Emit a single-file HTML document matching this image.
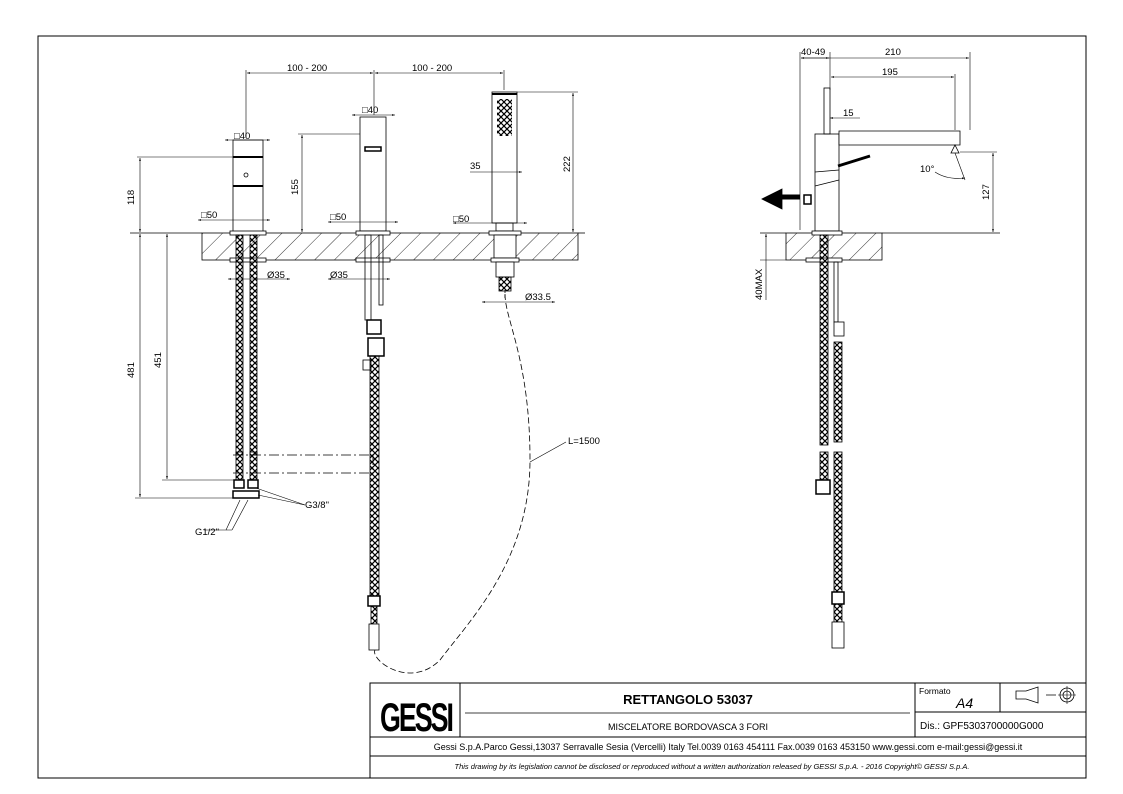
<!DOCTYPE html>
<html><head><meta charset="utf-8"><style>
html,body{margin:0;padding:0;background:#fff;}
svg{display:block;font-family:"Liberation Sans",Arial,sans-serif;}
text{fill:#000;}
</style></head><body>
<svg width="1123" height="794" viewBox="0 0 1123 794" xmlns="http://www.w3.org/2000/svg">
<defs>
<pattern id="hatch" width="14" height="14" patternUnits="userSpaceOnUse" patternTransform="rotate(45)">
<line x1="0" y1="0" x2="0" y2="14" stroke="#000" stroke-width="0.8"/></pattern>
<pattern id="braid" width="6" height="6" patternUnits="userSpaceOnUse">
<path d="M0 0L6 6M6 0L0 6" stroke="#000" stroke-width="1.2"/></pattern>
<marker id="a" viewBox="0 0 10 10" refX="10" refY="5" markerWidth="7" markerHeight="5" orient="auto-start-reverse"><path d="M0 2L10 5L0 8z" fill="#000"/></marker>
</defs>
<rect x="38" y="36" width="1048" height="742" fill="none" stroke="#000" stroke-width="1"/>

<g stroke="#000" fill="none" stroke-width="0.8">
<!-- decks -->
<rect x="202" y="233" width="376" height="27" fill="url(#hatch)"/>
<rect x="786" y="233" width="96" height="27" fill="url(#hatch)"/>
<line x1="130" y1="233" x2="202" y2="233"/>
<line x1="578" y1="233" x2="585" y2="233"/>
<line x1="760" y1="233" x2="786" y2="233"/>
<line x1="882" y1="233" x2="1000" y2="233"/>

<!-- left mixer -->
<rect x="233" y="140" width="30" height="92" fill="#fff"/>
<line x1="233" y1="157" x2="263" y2="157" stroke-width="2"/>
<line x1="233" y1="186" x2="263" y2="186" stroke-width="2"/>
<circle cx="246" cy="175" r="2"/>
<rect x="230" y="231" width="36" height="4" fill="#fff"/>
<rect x="230" y="258" width="36" height="4" fill="#fff"/>
<rect x="236" y="235" width="7" height="220" fill="url(#braid)"/>
<rect x="250" y="235" width="7" height="220" fill="url(#braid)"/>
<rect x="236" y="452" width="7" height="28" fill="url(#braid)"/>
<rect x="250" y="452" width="7" height="28" fill="url(#braid)"/>
<rect x="234" y="480" width="10" height="8" fill="#fff" stroke-width="1.5"/>
<rect x="248" y="480" width="10" height="8" fill="#fff" stroke-width="1.5"/>
<rect x="233" y="491" width="26" height="7" fill="#fff" stroke-width="1.5"/>

<!-- center spout -->
<rect x="360" y="117" width="26" height="114" fill="#fff"/>
<path d="M365 147h16v4h-16z" stroke-width="1.5"/>
<rect x="356" y="231" width="34" height="4" fill="#fff"/>
<rect x="356" y="258" width="34" height="4" fill="#fff"/>
<rect x="365" y="235" width="6" height="85"/>
<rect x="379" y="235" width="4" height="70"/>
<rect x="367" y="320" width="14" height="14" fill="#fff" stroke-width="1.5"/>
<rect x="368" y="338" width="16" height="18" fill="#fff" stroke-width="1.5"/>
<rect x="363" y="360" width="8" height="10" fill="#fff"/>
<rect x="370" y="356" width="9" height="240" fill="url(#braid)"/>
<rect x="368" y="596" width="12" height="10" fill="#fff" stroke-width="1.5"/>
<rect x="371" y="606" width="6" height="18" fill="url(#braid)"/>
<rect x="369" y="624" width="10" height="26" fill="#fff"/>
<path d="M233 455h140M233 473h140M373 455v18" stroke-dasharray="10 3 2 3"/>

<!-- handshower -->
<rect x="492" y="92" width="25" height="131" fill="#fff"/>
<line x1="492" y1="94" x2="517" y2="94" stroke-width="2"/>
<g stroke="none" fill="#000">
<rect x="497" y="99" width="15" height="37" fill="url(#braid)"/>
</g>
<rect x="496" y="223" width="17" height="8"/>
<rect x="489" y="231" width="32" height="4" fill="#fff"/>
<rect x="494" y="235" width="22" height="23" fill="#fff"/>
<rect x="491" y="258" width="28" height="4" fill="#fff"/>
<rect x="496" y="262" width="18" height="15" fill="#fff"/>
<rect x="499" y="277" width="12" height="14" fill="url(#braid)"/>
<path d="M505 294C505 320 530 360 530 460C530 560 470 620 440 660C410 690 370 660 375 650" stroke-dasharray="6 3"/>
<line x1="505" y1="290" x2="505" y2="300" stroke-dasharray="3 2"/>

<!-- side view -->
<rect x="815" y="134" width="24" height="97" fill="#fff"/>
<line x1="815" y1="172" x2="839" y2="170"/>
<line x1="815" y1="186" x2="839" y2="180"/>
<path d="M839 131h121v14h-121z" fill="#fff"/>
<path d="M955 145l4 8h-8z" fill="#fff"/>
<path d="M838 166l32-10" stroke-width="3"/>
<rect x="824" y="88" width="6" height="46"/>
<rect x="804" y="195" width="7" height="9" fill="#fff" stroke-width="1.5"/>
<rect x="812" y="231" width="30" height="4" fill="#fff"/>
<rect x="806" y="258" width="36" height="4" fill="#fff"/>
<rect x="820" y="235" width="8" height="210" fill="url(#braid)"/>
<rect x="834" y="262" width="4" height="60"/>
<rect x="834" y="322" width="10" height="14" fill="#fff"/>
<rect x="834" y="342" width="8" height="100" fill="url(#braid)"/>
<rect x="820" y="452" width="8" height="28" fill="url(#braid)"/>
<rect x="816" y="480" width="14" height="14" fill="#fff" stroke-width="1.5"/>
<rect x="834" y="452" width="8" height="140" fill="url(#braid)"/>
<rect x="832" y="592" width="12" height="12" fill="#fff" stroke-width="1.5"/>
<rect x="834" y="604" width="8" height="18" fill="url(#braid)"/>
<rect x="832" y="622" width="12" height="26" fill="#fff"/>
<path d="M800 197h-18" stroke-width="5"/>
<path d="M762 199l20-10v20z" fill="#000"/>

<!-- dimension lines -->
<g stroke-width="0.6">
<line x1="246" y1="70" x2="246" y2="138"/><line x1="374" y1="70" x2="374" y2="115"/><line x1="504" y1="70" x2="504" y2="90"/>
<line x1="247" y1="73" x2="373" y2="73" marker-start="url(#a)" marker-end="url(#a)"/>
<line x1="375" y1="73" x2="503" y2="73" marker-start="url(#a)" marker-end="url(#a)"/>
<line x1="225" y1="140" x2="270" y2="140" marker-start="url(#a)" marker-end="url(#a)"/>
<line x1="352" y1="115" x2="395" y2="115" marker-start="url(#a)" marker-end="url(#a)"/>
<line x1="198" y1="220" x2="270" y2="220" marker-start="url(#a)" marker-end="url(#a)"/>
<line x1="328" y1="222" x2="398" y2="222" marker-start="url(#a)" marker-end="url(#a)"/>
<line x1="453" y1="223" x2="527" y2="223" marker-start="url(#a)" marker-end="url(#a)"/>
<line x1="470" y1="172" x2="522" y2="172" marker-end="url(#a)"/>
<line x1="137" y1="157" x2="233" y2="157"/><line x1="140" y1="158" x2="140" y2="232" marker-start="url(#a)" marker-end="url(#a)"/>
<line x1="298" y1="134" x2="360" y2="134"/><line x1="302" y1="135" x2="302" y2="232" marker-start="url(#a)" marker-end="url(#a)"/>
<line x1="517" y1="92" x2="578" y2="92"/><line x1="573" y1="93" x2="573" y2="232" marker-start="url(#a)" marker-end="url(#a)"/>
<line x1="140" y1="234" x2="140" y2="497" marker-start="url(#a)" marker-end="url(#a)"/><line x1="135" y1="498" x2="233" y2="498"/>
<line x1="167" y1="234" x2="167" y2="479" marker-start="url(#a)" marker-end="url(#a)"/><line x1="162" y1="480" x2="234" y2="480"/>
<line x1="228" y1="279" x2="290" y2="279" marker-start="url(#a)" marker-end="url(#a)"/>
<line x1="328" y1="279" x2="390" y2="279" marker-start="url(#a)" marker-end="url(#a)"/>
<line x1="482" y1="302" x2="555" y2="302" marker-start="url(#a)" marker-end="url(#a)"/>
<line x1="800" y1="52" x2="800" y2="230"/><line x1="830" y1="52" x2="830" y2="90"/><line x1="970" y1="52" x2="970" y2="130"/>
<line x1="801" y1="58" x2="829" y2="58" marker-start="url(#a)" marker-end="url(#a)"/>
<line x1="801" y1="58" x2="969" y2="58" marker-end="url(#a)"/>
<line x1="831" y1="77" x2="954" y2="77" marker-start="url(#a)" marker-end="url(#a)"/><line x1="955" y1="74" x2="955" y2="130"/>
<line x1="830" y1="118" x2="860" y2="118" marker-start="url(#a)"/>
<line x1="960" y1="152" x2="997" y2="152"/><line x1="993" y1="153" x2="993" y2="232" marker-start="url(#a)" marker-end="url(#a)"/>
<line x1="766" y1="234" x2="766" y2="300" marker-start="url(#a)"/><line x1="760" y1="260" x2="786" y2="260"/>
<line x1="955" y1="153" x2="965" y2="180"/>
<path d="M935 172q12 8 30 6" marker-end="url(#a)"/>
<line x1="530" y1="462" x2="566" y2="442"/>
<line x1="240" y1="500" x2="226" y2="530"/><line x1="248" y1="500" x2="232" y2="530"/><line x1="204" y1="530" x2="232" y2="530"/>
<line x1="256" y1="488" x2="305" y2="505"/><line x1="258" y1="495" x2="305" y2="505"/>
</g>
</g>

<g font-size="9.5">
<text x="287" y="71">100 - 200</text><text x="412" y="71">100 - 200</text>
<text x="234" y="139">□40</text><text x="362" y="113">□40</text>
<text x="201" y="218">□50</text><text x="330" y="220">□50</text><text x="453" y="222">□50</text>
<text x="470" y="169">35</text>
<text x="267" y="278">Ø35</text><text x="330" y="278">Ø35</text><text x="525" y="300">Ø33.5</text>
<text x="305" y="508">G3/8"</text><text x="195" y="535">G1/2"</text>
<text x="568" y="444">L=1500</text>
<text x="801" y="55">40-49</text><text x="885" y="55">210</text><text x="882" y="75">195</text><text x="843" y="116">15</text>
<text x="920" y="172">10°</text>
<text transform="translate(134,205) rotate(-90)">118</text>
<text transform="translate(298,195) rotate(-90)">155</text>
<text transform="translate(570,172) rotate(-90)">222</text>
<text transform="translate(134,378) rotate(-90)">481</text>
<text transform="translate(161,368) rotate(-90)">451</text>
<text transform="translate(989,200) rotate(-90)">127</text>
<text transform="translate(762,300) rotate(-90)">40MAX</text>
</g>

<!-- title block -->
<g stroke="#000" fill="none" stroke-width="1">
<rect x="370" y="683" width="716" height="95" fill="#fff"/>
<line x1="460" y1="683" x2="460" y2="737"/>
<line x1="915" y1="683" x2="915" y2="737"/>
<line x1="1000" y1="683" x2="1000" y2="712"/>
<line x1="915" y1="712" x2="1086" y2="712"/>
<line x1="370" y1="737" x2="1086" y2="737"/>
<line x1="370" y1="756" x2="1086" y2="756"/>
<line x1="465" y1="713" x2="910" y2="713" stroke-width="0.7"/>
<path d="M1016 691h10l12-4v16l-12-4h-10z M1046 695h10" stroke-width="0.8"/>
<circle cx="1067" cy="695" r="7" stroke-width="0.8"/><circle cx="1067" cy="695" r="4" stroke-width="0.8"/>
<path d="M1058 695h18M1067 686v18" stroke-width="0.6"/>
</g>
<text x="380" y="731" font-size="40" font-weight="bold" textLength="72" lengthAdjust="spacingAndGlyphs" style="letter-spacing:-3px">GESSI</text>
<text x="688" y="704" font-size="13" font-weight="bold" text-anchor="middle">RETTANGOLO 53037</text>
<text x="688" y="730" font-size="9" text-anchor="middle">MISCELATORE BORDOVASCA 3 FORI</text>
<text x="919" y="694" font-size="8.5">Formato</text>
<text x="956" y="708" font-size="14" font-style="italic">A4</text>
<text x="920" y="729" font-size="10">Dis.: GPF5303700000G000</text>
<text x="728" y="750" font-size="9" text-anchor="middle">Gessi S.p.A.Parco Gessi,13037 Serravalle Sesia (Vercelli) Italy Tel.0039 0163 454111 Fax.0039 0163 453150 www.gessi.com e-mail:gessi@gessi.it</text>
<text x="712" y="769" font-size="7.5" font-style="italic" text-anchor="middle">This drawing by its legislation cannot be disclosed or reproduced without a written authorization released by GESSI S.p.A. - 2016 Copyright© GESSI S.p.A.</text>
</svg>
</body></html>
